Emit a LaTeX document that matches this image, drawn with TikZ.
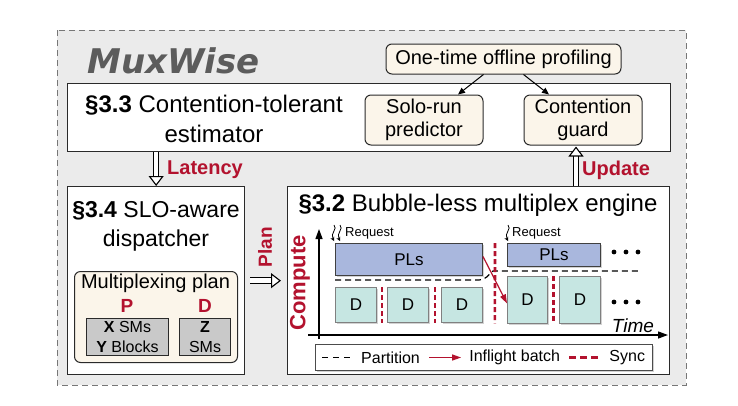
\documentclass[tikz,border=0pt]{standalone}
\usepackage{fontspec}
\setmainfont{Liberation Sans}
\newfontfamily\muxfont{DejaVu Sans}
\usetikzlibrary{positioning,arrows.meta,shadows,calc}
\definecolor{bggray}{HTML}{EBEBEB}
\definecolor{framegray}{HTML}{777777}
\definecolor{panelline}{HTML}{2A2A2A}
\definecolor{cream}{HTML}{FBF5EA}
\definecolor{redtext}{HTML}{B3122E}
\definecolor{plblue}{HTML}{A9B7DD}
\definecolor{dteal}{HTML}{C6E6E2}
\definecolor{boxgray}{HTML}{C9C9C9}
\definecolor{muxgray}{HTML}{5C5C5C}
\newcommand{\fsize}[2]{\fontsize{#1}{#2}\selectfont}
\tikzset{
  panel/.style={draw=panelline, line width=1.3pt, fill=white, anchor=north west, inner sep=0pt},
  softbox/.style={draw=panelline, line width=1pt, fill=cream, rounded corners=6pt, align=center, inner sep=0pt, font=\fsize{20}{23}},
  headline/.style={align=center, inner sep=0pt, font=\fsize{24}{30}},
  redlabel/.style={text=redtext, inner sep=0pt, font=\bfseries\fsize{20}{24}},
  hollow/.style={draw=black, line width=1.1pt, double=white, double distance=4.4pt, -{Triangle[open, length=10pt, width=15pt, fill=white]}},
  smallarrow/.style={draw=black, line width=1pt, -{Triangle[length=7pt, width=6pt]}},
  unitbox/.style={draw=panelline, line width=1pt, fill=boxgray, align=center, inner sep=0pt, font=\fsize{16}{20}, anchor=north west},
  plbox/.style={draw=black!75, line width=1pt, fill=plblue, inner sep=0pt, font=\fsize{17}{20}, anchor=north west,
    drop shadow={shadow xshift=1.3pt, shadow yshift=-1.3pt, opacity=.35}},
  dbox/.style={draw=black!50, line width=0.8pt, fill=dteal, inner sep=0pt, font=\fsize{17}{20}, anchor=north west,
    drop shadow={shadow xshift=1.3pt, shadow yshift=-1.3pt, opacity=.35}},
  axis/.style={draw=black, line width=1.3pt, -{Triangle[length=10pt, width=7pt]}},
  partition/.style={draw=black, line width=1.2pt, dash pattern=on 6pt off 4pt},
  sync/.style={draw=redtext, line width=2.6pt, dash pattern=on 5pt off 3pt},
  inflight/.style={draw=redtext, line width=1.2pt, -{Triangle[length=9pt, width=6pt]}},
  request/.style={draw=black, line width=0.8pt, -{Stealth[length=4pt, width=4pt]}},
  legtext/.style={inner sep=0pt, font=\fsize{16}{20}},
}
\begin{document}
\begin{tikzpicture}[x=1pt, y=-1pt]
\useasboundingbox (0,0) rectangle (738,405);
% outer frame
\draw[draw=framegray, fill=bggray, line width=0.9pt, dash pattern=on 6pt off 4pt] (57,30) rectangle (686,385);
\node[anchor=west, inner sep=0pt, text=muxgray, font=\muxfont\bfseries\itshape\fsize{34}{40}] (mux) at (87,61) {MuxWise};

% estimator
\node[panel, minimum width=603pt, minimum height=68pt] (est) at (67,83) {};
\node[headline] (esttitle) at (214,119) {\textbf{\S3.3} Contention-tolerant\\estimator};
\node[softbox, minimum width=235pt, minimum height=30pt] (prof) at (503.5,59) {One-time offline profiling};
\node[softbox, minimum width=118pt, minimum height=50pt] (solo) at (424,120) {Solo-run\\predictor};
\node[softbox, minimum width=118pt, minimum height=50pt] (guard) at (583,120) {Contention\\guard};
\draw[smallarrow] ([xshift=-20pt]prof.south) -- ([xshift=34pt]solo.north);
\draw[smallarrow] ([xshift=20pt]prof.south) -- ([xshift=-34pt]guard.north);

% dispatcher
\node[panel, minimum width=177pt, minimum height=188pt] (disp) at (67,186) {};
\node[headline, font=\fsize{23}{29}] (disptitle) at (156,226) {\textbf{\S3.4} SLO-aware\\dispatcher};
\node[softbox, anchor=north west, minimum width=163pt, minimum height=91pt] (plan) at (74,271) {};
\node[inner sep=0pt, font=\fsize{20}{24}] (plantitle) at (155.5,283) {Multiplexing plan};
\node[redlabel, font=\bfseries\fsize{19}{22}] (ptag) at (127,306) {P};
\node[redlabel, font=\bfseries\fsize{19}{22}] (dtag) at (205,306) {D};
\node[unitbox, minimum width=82pt, minimum height=37pt] (punits) at (86,318) {\textbf{X} SMs\\\textbf{Y} Blocks};
\node[unitbox, minimum width=51pt, minimum height=37pt] (dunits) at (179,318) {\textbf{Z}\\SMs};

% engine
\node[panel, minimum width=382pt, minimum height=188pt] (engine) at (287,186) {};
\node[headline] (enginetitle) at (478,205) {\textbf{\S3.2} Bubble-less multiplex engine};

% links between parts
\draw[hollow] (est.south -| disp.north) -- (disp.north);
\node[redlabel, anchor=west] (lat) at (167,170) {Latency};
\draw[hollow] (engine.north -| 576,0) -- ([xshift=-7pt,yshift=-1pt]guard.south);
\node[redlabel, anchor=west] (upd) at (582,170) {Update};
\draw[hollow, shorten <=5pt, shorten >=6pt] (disp.east) -- (engine.west);
\node[redlabel, rotate=90, font=\bfseries\fsize{19}{22}] (planlbl) at (265,247) {Plan};

% timeline
\coordinate (ybot) at (319,339);
\coordinate (ytop) at (319,229);
\coordinate (xleft) at (308,335);
\coordinate (xright) at (668,335);
\draw[axis] (ybot) -- (ytop);
\draw[axis] (xleft) -- (xright);
\node[redlabel, rotate=90, font=\bfseries\fsize{22}{26}] (compute) at (300,283) {Compute};
\node[inner sep=0pt, font=\itshape\fsize{19}{22}] (time) at (633,326) {Time};

\node[plbox, minimum width=147pt, minimum height=32pt] (pl1) at (335,243) {PLs};
\node[plbox, minimum width=93pt, minimum height=23pt] (pl2) at (507,243) {PLs};
\foreach \n/\xa in {1/335,2/387,3/441}
  \node[dbox, minimum width=41pt, minimum height=35pt] (d\n) at (\xa,287) {D};
\node[dbox, minimum width=40pt, minimum height=47pt] (d4) at (507,276) {D};
\node[dbox, minimum width=41pt, minimum height=47pt] (d5) at (559,276) {D};

\coordinate (pa) at (335,280);
\coordinate (pb) at (479,280);
\coordinate (pc) at (493,271);
\coordinate (pd) at (638,271);
\draw[partition] (pa) -- (pb) to[out=0, in=220] (pc) -- (pd);

\draw[sync] ($(d1.north east)!.5!(d2.north west)$) -- ($(d1.south east)!.5!(d2.south west)$);
\draw[sync] ($(d2.north east)!.5!(d3.north west)$) -- ($(d2.south east)!.5!(d3.south west)$);
\draw[sync] ($(pl1.north east)!.5!(pl2.north west)$) -- ($(d3.south east)!.5!(d4.south west)$);
\draw[sync] ($(d4.north east)!.5!(d5.north west)$) -- ($(d4.south east)!.5!(d5.south west)$);

\draw[inflight] ([yshift=3pt]pl1.east) -- ([yshift=-3.5pt]d4.west);

\foreach \yy in {252,302}
  \foreach \xx in {614,626,638}
    \fill (\xx,\yy) circle[radius=2.4pt];

% requests
\node[inner sep=0pt, anchor=west, font=\fsize{13}{15}] (req1) at (345,233) {Request};
\node[inner sep=0pt, anchor=west, font=\fsize{13}{15}] (req2) at (512,233) {Request};
\draw[request] (334,225) .. controls (338,229) and (330,233) .. (334,241);
\draw[request] (340,225) .. controls (344,229) and (336,233) .. (340,241);
\draw[request] (508,225) .. controls (512,229) and (504,233) .. (508,241);

% legend
\node[draw=black!70, line width=1pt, fill=white, anchor=north west, minimum width=337pt, minimum height=26pt, inner sep=0pt,
  drop shadow={shadow xshift=1.3pt, shadow yshift=-1.3pt, opacity=.35}] (legend) at (315,344) {};
\coordinate[right=7pt of legend.west] (lg1);
\coordinate[right=30pt of lg1] (lg2);
\draw[partition, dash pattern=on 6pt off 5pt] (lg1) -- (lg2);
\node[legtext, anchor=west, right=9pt of lg2] (legpart) {Partition};
\coordinate[right=9pt of legpart.east] (lg3);
\coordinate[right=32pt of lg3] (lg4);
\draw[inflight] (lg3) -- (lg4);
\node[legtext, anchor=west, right=8pt of lg4] (leginf) {Inflight batch};
\coordinate[right=9pt of leginf.east] (lg5);
\coordinate[right=32pt of lg5] (lg6);
\draw[sync, dash pattern=on 7pt off 4pt] (lg5) -- (lg6);
\node[legtext, anchor=west, right=8pt of lg6] (legsync) {Sync};
\end{tikzpicture}
\end{document}
